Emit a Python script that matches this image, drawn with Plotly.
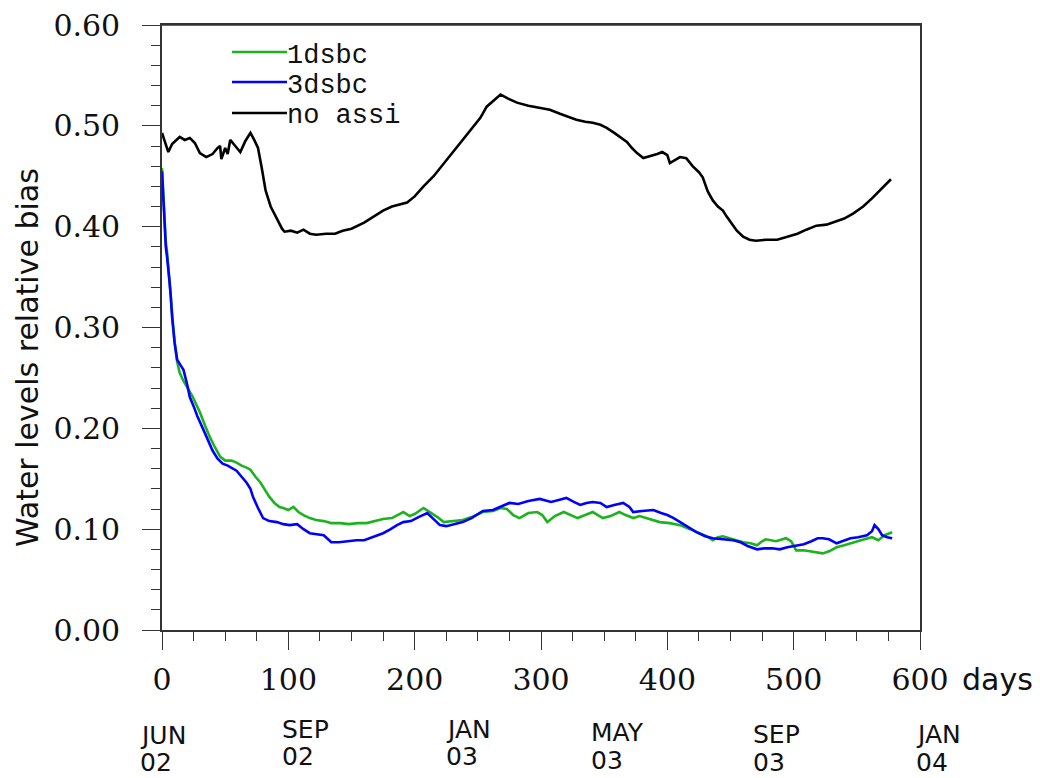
import plotly.graph_objects as go

# ---- data ----
days_noassi = [0, 2, 5, 8, 11, 14, 18, 22, 26, 30, 35, 40, 44, 46, 47, 50, 52, 54, 58, 62, 66, 70, 73, 76, 79,
               82, 86, 91, 95, 97, 102, 107, 112, 117, 122, 130, 137, 143, 150, 160, 168, 175, 182, 188, 194,
               200, 207, 215, 222, 230, 238, 245, 252, 257, 263, 268, 274, 281, 290, 300, 307, 315, 322, 328,
               335, 341, 347, 352, 358, 364, 368, 372, 376, 381, 387, 392, 396, 400, 402, 406, 410, 415, 420,
               425, 428, 432, 436, 440, 444, 447, 450, 455, 460, 465, 470, 478, 487, 495, 503, 510, 518, 526,
               533, 540, 547, 555, 562, 570, 577]
noassi = [0.493, 0.485, 0.474, 0.482, 0.486, 0.489, 0.486, 0.488, 0.483, 0.473, 0.469, 0.472, 0.478, 0.480,
          0.467, 0.478, 0.472, 0.486, 0.480, 0.474, 0.485, 0.493, 0.486, 0.478, 0.458, 0.436, 0.420, 0.407,
          0.398, 0.395, 0.396, 0.394, 0.397, 0.393, 0.392, 0.393, 0.393, 0.396, 0.398, 0.404, 0.410, 0.416,
          0.420, 0.422, 0.424, 0.430, 0.440, 0.450, 0.461, 0.473, 0.486, 0.497, 0.508, 0.519, 0.526, 0.531,
          0.527, 0.523, 0.520, 0.518, 0.516, 0.512, 0.509, 0.506, 0.504, 0.503, 0.501, 0.498, 0.493, 0.488,
          0.484, 0.478, 0.473, 0.468, 0.470, 0.472, 0.474, 0.471, 0.463, 0.466, 0.469, 0.468, 0.460, 0.454,
          0.449, 0.435, 0.426, 0.420, 0.416, 0.410, 0.405, 0.396, 0.390, 0.387, 0.386, 0.387, 0.387, 0.390,
          0.393, 0.397, 0.401, 0.402, 0.405, 0.408, 0.413, 0.420, 0.428, 0.438, 0.447]

days_1dsbc = [0, 1, 2, 3, 4, 5, 6, 7, 8, 10, 12, 14, 17, 20, 24, 27, 30, 34, 38, 42, 46, 50, 55, 59, 63, 67,
              70, 74, 78, 82, 85, 89, 93, 96, 100, 104, 108, 112, 117, 122, 128, 134, 141, 148, 155, 162, 168,
              175, 182, 187, 191, 196, 200, 207, 212, 218, 223, 230, 238, 245, 254, 262, 268, 273, 278, 283,
              290, 297, 301, 305, 311, 318, 323, 329, 335, 341, 345, 349, 355, 362, 367, 373, 378, 383, 389,
              394, 402, 410, 418, 426, 431, 436, 440, 444, 452, 460, 466, 471, 475, 478, 486, 494, 498, 502,
              508, 516, 523, 528, 534, 540, 545, 550, 556, 562, 567, 572, 578]
dsbc1 = [0.458, 0.430, 0.400, 0.385, 0.375, 0.362, 0.345, 0.330, 0.314, 0.285, 0.266, 0.255, 0.247, 0.241,
         0.232, 0.224, 0.216, 0.203, 0.191, 0.181, 0.172, 0.168, 0.168, 0.166, 0.163, 0.161, 0.159, 0.152,
         0.146, 0.138, 0.132, 0.126, 0.122, 0.121, 0.119, 0.122, 0.117, 0.114, 0.111, 0.109, 0.108, 0.106,
         0.106, 0.105, 0.106, 0.106, 0.108, 0.110, 0.111, 0.114, 0.117, 0.113, 0.115, 0.121, 0.117, 0.112,
         0.107, 0.108, 0.109, 0.112, 0.117, 0.118, 0.121, 0.120, 0.114, 0.111, 0.116, 0.117, 0.114, 0.107,
         0.113, 0.117, 0.114, 0.111, 0.114, 0.117, 0.114, 0.111, 0.113, 0.117, 0.114, 0.111, 0.113, 0.111,
         0.109, 0.107, 0.106, 0.104, 0.100, 0.096, 0.093, 0.089, 0.092, 0.093, 0.090, 0.087, 0.086, 0.084,
         0.088, 0.090, 0.088, 0.091, 0.088, 0.079, 0.079, 0.077, 0.076, 0.078, 0.082, 0.084, 0.086, 0.088,
         0.090, 0.092, 0.089, 0.094, 0.097]

days_3dsbc = [0, 1, 2, 3, 4, 5, 6, 7, 8, 10, 12, 15, 17, 20, 22, 25, 28, 33, 37, 40, 44, 48, 52, 56, 59, 63,
              67, 70, 72, 76, 80, 85, 91, 96, 101, 107, 112, 117, 122, 128, 134, 140, 147, 154, 160, 167, 175,
              181, 186, 191, 197, 203, 210, 215, 220, 225, 232, 238, 245, 254, 262, 268, 275, 282, 290, 299,
              304, 308, 314, 320, 326, 331, 336, 341, 347, 352, 358, 365, 370, 373, 380, 389, 395, 400, 405,
              410, 416, 423, 430, 436, 444, 452, 458, 464, 471, 477, 483, 489, 495, 502, 508, 514, 519, 523,
              528, 534, 540, 545, 551, 558, 562, 564, 567, 570, 574, 578]
dsbc3 = [0.455, 0.430, 0.400, 0.380, 0.370, 0.360, 0.345, 0.330, 0.310, 0.285, 0.268, 0.262, 0.258, 0.243,
         0.231, 0.222, 0.212, 0.198, 0.187, 0.178, 0.170, 0.165, 0.163, 0.160, 0.158, 0.152, 0.146, 0.140,
         0.132, 0.121, 0.111, 0.108, 0.107, 0.105, 0.104, 0.105, 0.100, 0.096, 0.095, 0.094, 0.087, 0.087,
         0.088, 0.089, 0.089, 0.092, 0.096, 0.100, 0.104, 0.107, 0.108, 0.112, 0.116, 0.110, 0.104, 0.103,
         0.105, 0.107, 0.111, 0.118, 0.119, 0.122, 0.126, 0.125, 0.128, 0.130, 0.128, 0.127, 0.129, 0.131,
         0.127, 0.124, 0.126, 0.127, 0.126, 0.122, 0.124, 0.126, 0.122, 0.117, 0.118, 0.119, 0.116, 0.114,
         0.111, 0.107, 0.102, 0.097, 0.093, 0.091, 0.090, 0.089, 0.087, 0.083, 0.080, 0.081, 0.081, 0.080,
         0.082, 0.084, 0.085, 0.088, 0.091, 0.091, 0.090, 0.086, 0.089, 0.091, 0.092, 0.094, 0.098, 0.104,
         0.100, 0.094, 0.092, 0.091]

series_names = ["1dsbc", "3dsbc", "no assi"]
series_colors = ["#1db31d", "#0000ff", "#000000"]

x_tick_vals = [0, 100, 200, 300, 400, 500, 600]
y_tick_vals = [0.0, 0.1, 0.2, 0.3, 0.4, 0.5, 0.6]
y_tick_text = ["0.00", "0.10", "0.20", "0.30", "0.40", "0.50", "0.60"]

date_months = ["JUN", "SEP", "JAN", "MAY", "SEP", "JAN"]
date_years = ["02", "02", "03", "03", "03", "04"]
date_days = [-18, 94, 224, 339, 467, 596]          # left edge of each date label, in days
date_month_py = [735, 729, 729, 732, 734, 734]     # vertical centres, screen pixels
date_year_py = [762, 757, 757, 760, 762, 762]

# ---- geometry (screen pixels; page body adds an 8 px offset) ----
OFF = 8
PX0, PX1 = 162, 920      # plot area left/right on screen
PY0, PY1 = 25, 630       # plot area top/bottom on screen
PW, PH = PX1 - PX0, PY1 - PY0
W, H = 1032, 770
L, T = PX0 - OFF, PY0 - OFF
R, B = W - L - PW, H - T - PH


def px2paper(px):
    return (px - PX0) / PW


def py2paper(py):
    return (PY1 - py) / PH


fig = go.Figure()
for xs, ys, name, col in [(days_1dsbc, dsbc1, series_names[0], series_colors[0]),
                          (days_3dsbc, dsbc3, series_names[1], series_colors[1]),
                          (days_noassi, noassi, series_names[2], series_colors[2])]:
    fig.add_trace(go.Scatter(x=xs, y=ys, mode="lines", name=name,
                             line=dict(color=col, width=2.6), showlegend=False))

# Custom legend (line sample + text) matching the reference
leg_py_line = [52, 82, 113]
leg_py_text = [56, 86, 116]
for i, (name, col) in enumerate(zip(series_names, series_colors)):
    fig.add_shape(type="line", xref="paper", yref="paper",
                  x0=px2paper(232), x1=px2paper(287),
                  y0=py2paper(leg_py_line[i]), y1=py2paper(leg_py_line[i]),
                  line=dict(color=col, width=2.6))
    fig.add_annotation(text=name, xref="paper", yref="paper",
                       x=px2paper(285), y=py2paper(leg_py_text[i]),
                       xanchor="left", yanchor="middle", showarrow=False,
                       font=dict(family="Liberation Mono", size=27, color="#111"))

# Date labels below the axis
for d, m, yr, pm, pyr in zip(date_days, date_months, date_years, date_month_py, date_year_py):
    for txt, pyv in ((m, pm), (yr, pyr)):
        fig.add_annotation(text=txt, xref="paper", yref="paper", x=d / 600.0, y=py2paper(pyv),
                           xanchor="left", yanchor="middle", showarrow=False, borderpad=0,
                           font=dict(family="DejaVu Sans", size=25, color="#111"))

# "days" unit label
fig.add_annotation(text="days", xref="paper", yref="paper",
                   x=px2paper(960), y=py2paper(679),
                   xanchor="left", yanchor="middle", showarrow=False,
                   font=dict(family="DejaVu Sans", size=30, color="#111"))

# y-axis title
fig.add_annotation(text="Water levels relative bias", xref="paper", yref="paper",
                   x=px2paper(27), y=py2paper(358),
                   xanchor="center", yanchor="middle", textangle=-90, showarrow=False,
                   borderpad=0, font=dict(family="DejaVu Sans", size=30, color="#111"))

axis_common = dict(showline=True, linecolor="#333", linewidth=1.6, mirror=True,
                   showgrid=False, zeroline=False, ticks="outside", tickcolor="#333",
                   tickwidth=1.4, ticklen=18, ticklabeloverflow="allow")

fig.update_xaxes(range=[0, 600], tickmode="array", tickvals=x_tick_vals,
                 ticktext=[str(v) for v in x_tick_vals],
                 tickfont=dict(family="DejaVu Serif", size=30, color="#111"),
                 minor=dict(dtick=25, tick0=0, ticks="outside", ticklen=9,
                            tickcolor="#333", tickwidth=1.4, showgrid=False),
                 ticklabelstandoff=4, **axis_common)
fig.update_yaxes(range=[0, 0.6], tickmode="array", tickvals=y_tick_vals, ticktext=y_tick_text,
                 tickfont=dict(family="DejaVu Serif", size=30, color="#111"),
                 minor=dict(dtick=0.02, tick0=0, ticks="outside", ticklen=9,
                            tickcolor="#333", tickwidth=1.4, showgrid=False),
                 ticklabelstandoff=16, **axis_common)

# explicit top border of the frame (same as the mirrored axis line)
fig.add_shape(type="line", xref="paper", yref="paper", x0=0, x1=1, y0=1, y1=1,
              line=dict(color="#333", width=1.6), layer="above")

fig.update_layout(width=W, height=H, margin=dict(l=L, r=R, t=T, b=B, autoexpand=False),
                  paper_bgcolor="white", plot_bgcolor="white", showlegend=False)

fig.write_html("out.html")
